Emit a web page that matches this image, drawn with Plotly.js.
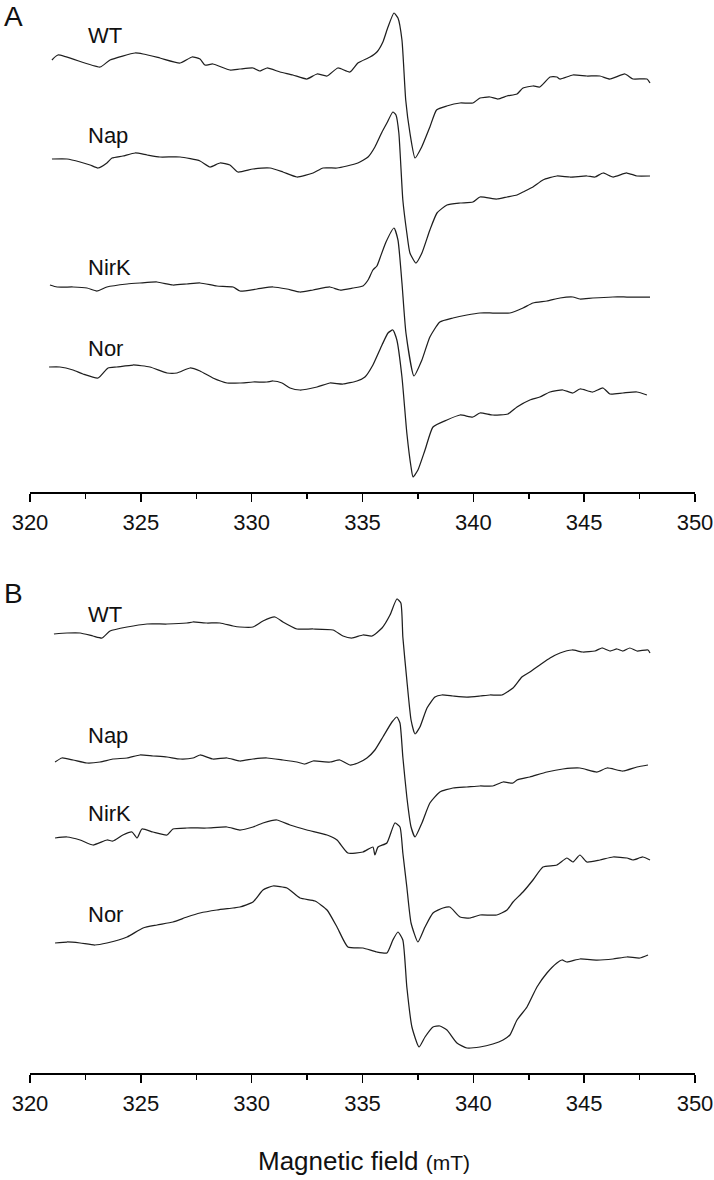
<!DOCTYPE html>
<html>
<head>
<meta charset="utf-8">
<script src="https://cdn.plot.ly/plotly-3.0.1.min.js"></script>
<style>html,body{margin:0;padding:0;background:#fff;}#chart{width:714px;height:1180px;}</style>
</head>
<body>
<div id="chart"></div>
<script>
// ---------- DATA (magnetic field in mT, EPR signal in arbitrary units) ----------
const sampleLabels = ["WT", "Nap", "NirK", "Nor"];
const panelLabels = ["A", "B"];
const tickValues = [320, 325, 330, 335, 340, 345, 350];

// Panel A
const field_A_WT = [320.99,321.26,323.16,323.61,324.74,325.10,325.86,326.77,327.31,327.67,327.89,328.25,329.02,329.47,330.06,330.37,330.69,331.28,331.86,332.49,332.95,333.40,333.89,334.43,334.79,335.34,335.65,335.92,336.15,336.42,336.60,336.78,336.95,337.14,337.37,337.67,338.04,338.34,338.80,339.40,339.98,340.30,340.75,341.11,341.52,341.97,342.24,342.69,343.00,343.46,343.77,343.91,344.49,345.12,345.71,346.16,346.84,347.20,347.83,347.97];
const signal_A_WT = [0,5,-7,0,7,6,2,-3,3,1,-5,-4,-10,-9,-8,-11,-8,-12,-15,-19,-14,-16,-8,-12,-3,3,8,18,33,47,42,20,-40,-73,-98,-87,-67,-50,-46,-43,-43,-38,-37,-39,-36,-34,-28,-26,-27,-17,-17,-19,-15,-16,-16,-19,-14,-19,-19,-23];

const field_A_Nap = [320.99,321.67,322.26,322.71,323.07,323.47,323.70,324.19,324.74,325.28,325.86,326.77,327.67,328.12,328.57,329.02,329.38,330.06,330.83,331.41,332.04,332.77,333.22,333.85,334.30,334.79,335.25,335.56,335.88,336.10,336.37,336.51,336.64,336.82,337.00,337.14,337.41,337.68,338.04,338.36,338.81,339.40,339.98,340.30,341.06,341.52,341.97,342.24,342.69,343.14,343.77,344.36,345.12,345.49,345.85,346.30,346.93,347.38,347.97];
const signal_A_Nap = [0,0,-3,-6,-9,-4,1,3,6,4,2,2,-2,-8,-4,-6,-13,-10,-9,-13,-18,-14,-9,-9,-7,-4,2,12,27,36,47,44,26,-41,-74,-94,-104,-94,-71,-54,-46,-44,-43,-38,-40,-38,-36,-33,-28,-21,-17,-18,-17,-18,-14,-18,-14,-17,-17];

const field_A_NirK = [320.90,321.22,321.94,322.57,323.02,323.47,324.38,324.96,325.73,326.45,327.08,327.67,328.43,329.16,329.47,330.24,330.96,331.59,332.18,332.77,333.53,333.98,334.57,335.02,335.25,335.47,335.65,335.79,336.06,336.42,336.60,336.78,336.96,337.32,337.68,338.04,338.49,339.08,339.71,340.30,340.88,341.65,342.24,342.69,343.32,343.91,344.49,344.81,345.39,346.30,346.93,347.97];
const signal_A_NirK = [0,-2,-2,-3,-6,-2,1,2,3,0,1,2,-1,-2,-6,-4,-2,-4,-7,-5,-2,-5,-3,-1,5,15,19,27,43,57,45,2,-48,-91,-75,-52,-37,-33,-30,-28,-28,-28,-23,-18,-16,-13,-12,-14,-13,-12,-12,-12];

const field_A_Nor = [320.86,321.35,321.94,322.39,323.07,323.52,323.92,324.65,325.41,326.18,326.63,327.22,327.67,328.25,328.89,329.47,330.06,330.69,330.96,331.37,331.73,332.18,332.95,333.53,334.12,334.75,335.11,335.47,335.88,336.15,336.37,336.55,336.78,337.00,337.19,337.28,337.50,337.82,338.18,338.81,339.40,339.98,340.30,340.88,341.56,341.97,342.55,343.00,343.46,344.04,344.49,344.81,345.39,345.85,346.16,346.75,347.38,347.83];
const signal_A_Nor = [0,0,-3,-7,-11,-1,0,2,0,-6,-6,-1,-4,-11,-16,-16,-15,-15,-14,-16,-21,-23,-20,-16,-17,-14,-10,2,22,34,37,27,-10,-66,-100,-110,-103,-83,-60,-53,-48,-50,-46,-48,-47,-40,-33,-30,-25,-23,-26,-22,-25,-21,-27,-26,-25,-28];

// Panel B
const field_B_WT = [321.08,321.67,322.26,322.84,323.25,323.61,324.38,325.28,326.18,327.08,327.35,327.98,328.57,329.16,329.47,330.06,330.51,331.05,331.41,332.04,332.77,333.67,334.12,334.52,335.02,335.43,335.88,336.24,336.55,336.73,336.82,337.00,337.19,337.37,337.59,337.91,338.27,338.58,339.08,339.71,340.30,340.75,341.29,341.79,342.19,342.55,343.00,343.46,343.91,344.45,344.94,345.49,345.80,346.16,346.48,346.75,347.06,347.38,347.88,347.97];
const signal_B_WT = [0,1,1,-2,-4,3,7,10,10,11,12,11,11,8,7,7,13,17,12,5,5,4,-2,-4,-1,-2,6,19,35,31,-3,-46,-86,-100,-93,-74,-63,-61,-62,-63,-62,-61,-61,-54,-43,-38,-31,-24,-19,-16,-18,-17,-14,-17,-15,-17,-14,-17,-16,-19];

const field_B_Nap = [321.13,321.44,321.94,322.57,323.16,323.74,324.38,324.96,325.55,326.18,326.77,327.35,327.67,328.25,328.89,329.47,330.06,330.69,331.41,332.04,332.40,332.77,333.53,333.98,334.43,334.79,335.20,335.56,335.92,336.33,336.55,336.69,336.82,337.00,337.19,337.37,337.68,338.04,338.49,339.08,339.71,340.30,340.88,341.34,341.79,341.97,342.55,343.32,344.04,344.81,345.58,346.03,346.75,347.38,347.88];
const signal_B_Nap = [0,4,2,-1,0,3,4,7,6,5,3,4,7,3,4,1,3,4,2,0,-2,1,0,2,-3,-1,4,12,25,40,45,39,5,-35,-65,-75,-61,-41,-30,-26,-25,-24,-24,-20,-21,-18,-15,-10,-7,-6,-10,-6,-9,-5,-3];

const field_B_NirK = [321.13,321.67,322.26,322.84,323.47,323.74,324.19,324.60,324.83,325.05,325.55,326.18,326.45,327.08,327.98,328.89,329.47,330.06,330.51,331.14,331.73,332.49,333.40,333.85,334.34,335.02,335.47,335.56,335.70,336.10,336.46,336.69,336.82,337.00,337.19,337.50,337.82,338.18,338.63,338.94,339.40,339.85,340.30,341.06,341.52,341.79,342.24,342.69,343.14,343.77,344.22,344.49,344.81,345.12,345.71,346.30,346.93,347.20,347.65,347.97];
const signal_B_NirK = [0,1,-2,-7,-2,-3,3,6,0,9,6,3,9,10,10,11,8,11,15,18,13,8,3,-2,-15,-14,-9,-17,-9,-5,15,11,-15,-49,-85,-104,-89,-75,-70,-69,-79,-80,-77,-77,-72,-64,-54,-42,-29,-27,-20,-24,-17,-24,-22,-19,-20,-22,-19,-22];

const field_B_Nor = [321.13,321.67,322.26,322.93,323.47,324.38,325.10,325.73,326.45,327.08,327.67,328.43,329.16,329.47,330.06,330.51,330.96,331.59,332.18,332.86,333.40,333.85,334.34,335.02,335.65,336.10,336.37,336.60,336.82,337.00,337.23,337.55,337.82,338.18,338.49,338.81,339.26,339.71,340.30,340.88,341.34,341.65,341.97,342.42,342.87,343.32,343.77,344.00,344.22,344.81,345.58,346.30,346.93,347.51,347.88];
const signal_B_Nor = [0,1,0,-2,0,6,15,18,21,26,30,33,35,36,41,53,57,55,45,42,33,16,-4,-5,-9,-10,3,11,3,-44,-84,-104,-94,-84,-83,-87,-100,-105,-104,-101,-97,-92,-77,-64,-44,-30,-20,-17,-19,-16,-17,-16,-14,-15,-12];

// ---------- LAYOUT HELPERS (positions / styles only) ----------
const W = 714, H = 1180, ML = 30, MR = 19;
const plotW = W - ML - MR;
const px2x = px => (px - ML) / plotW;      // paper x from pixel column
const px2y = row => (H - row) / H;         // paper y from pixel row
const axisRowA = 492, topRowA = 0, axisRowB = 1073, topRowB = 570;
const offsetsA = [432, 333, 207, 125];
const offsetsB = [439, 311, 235, 130];
const labelRowsA = [36, 136, 268, 349];
const labelRowsB = [614, 736, 813, 915];

const lineStyle = {color: '#1e1e1e', width: 1.25, shape: 'spline', smoothing: 0.5};
const seriesA = [[field_A_WT, signal_A_WT], [field_A_Nap, signal_A_Nap], [field_A_NirK, signal_A_NirK], [field_A_Nor, signal_A_Nor]];
const seriesB = [[field_B_WT, signal_B_WT], [field_B_Nap, signal_B_Nap], [field_B_NirK, signal_B_NirK], [field_B_Nor, signal_B_Nor]];

const traces = [];
seriesA.forEach((s, i) => traces.push({x: s[0], y: s[1].map(v => v + offsetsA[i]), type: 'scatter', mode: 'lines', name: 'A ' + sampleLabels[i], line: lineStyle, xaxis: 'x', yaxis: 'y', hoverinfo: 'skip'}));
seriesB.forEach((s, i) => traces.push({x: s[0], y: s[1].map(v => v + offsetsB[i]), type: 'scatter', mode: 'lines', name: 'B ' + sampleLabels[i], line: lineStyle, xaxis: 'x2', yaxis: 'y2', hoverinfo: 'skip'}));

const FONT = 'Liberation Sans, Arial, Helvetica, sans-serif';
const xaxisBase = {
  range: [320, 350], showline: true, linecolor: '#000', linewidth: 1.5,
  ticks: 'outside', ticklen: 8, tickwidth: 1.5, tickcolor: '#000',
  tickmode: 'array', tickvals: tickValues, ticktext: tickValues.map(String),
  minor: {tickmode: 'linear', tick0: 322.5, dtick: 5, ticks: 'outside', ticklen: 5, tickwidth: 1.5, tickcolor: '#000', showgrid: false},
  showgrid: false, zeroline: false, ticklabelstandoff: 2,
  tickfont: {family: FONT, size: 22, color: '#111'}, fixedrange: true
};
const layout = {
  width: W, height: H,
  margin: {l: ML, r: MR, t: 0, b: 0, pad: 0},
  paper_bgcolor: '#fff', plot_bgcolor: '#fff', showlegend: false,
  font: {family: FONT, color: '#111'},
  xaxis: Object.assign({}, xaxisBase, {anchor: 'y'}),
  xaxis2: Object.assign({}, xaxisBase, {anchor: 'y2'}),
  yaxis: {visible: false, range: [0, axisRowA - topRowA], domain: [px2y(axisRowA), px2y(topRowA)], fixedrange: true},
  yaxis2: {visible: false, range: [0, axisRowB - topRowB], domain: [px2y(axisRowB), px2y(topRowB)], fixedrange: true},
  annotations: []
};
const ann = (text, pxX, row, size, anchor) => ({
  text: text, xref: 'paper', yref: 'paper', x: px2x(pxX), y: px2y(row),
  xanchor: anchor || 'left', yanchor: 'middle', showarrow: false,
  font: {family: FONT, size: size, color: '#111'}
});
layout.annotations.push(ann(panelLabels[0], 2, 16, 28));
layout.annotations.push(ann(panelLabels[1], 2, 594, 28));
sampleLabels.forEach((t, i) => layout.annotations.push(ann(t, 86, labelRowsA[i], 22)));
sampleLabels.forEach((t, i) => layout.annotations.push(ann(t, 86, labelRowsB[i], 22)));
layout.annotations.push(ann('Magnetic field <span style="font-size:21px">(mT)</span>', 364, 1161, 26, 'center'));

Plotly.newPlot('chart', traces, layout, {displayModeBar: false, staticPlot: true});
</script>
</body>
</html>
